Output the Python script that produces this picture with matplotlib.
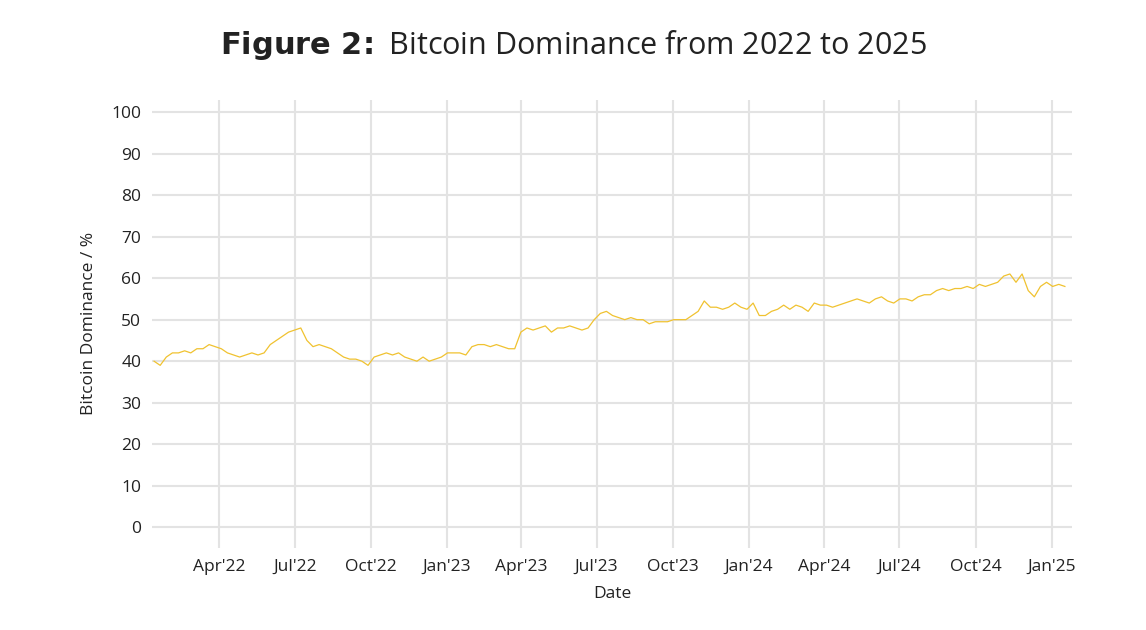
import matplotlib
matplotlib.use("Agg")
import matplotlib.pyplot as plt
import pandas as pd

plt.rcParams["font.family"] = "Open Sans"

dominance = [40, 39, 41, 42, 42, 42.5, 42, 43, 43, 44, 43.5, 43, 42, 41.5, 41, 41.5, 42, 41.5, 42, 44, 45, 46, 47, 47.5,
             48, 45, 43.5, 44, 43.5, 43, 42, 41, 40.5, 40.5, 40, 39, 41, 41.5, 42, 41.5, 42, 41, 40.5, 40, 41, 40,
             40.5, 41, 42, 42, 42, 41.5, 43.5, 44, 44, 43.5, 44, 43.5, 43, 43, 47, 48, 47.5, 48, 48.5, 47, 48, 48,
             48.5, 48, 47.5, 48, 50, 51.5, 52, 51, 50.5, 50, 50.5, 50, 50, 49, 49.5, 49.5, 49.5, 50, 50, 50, 51,
             52, 54.5, 53, 53, 52.5, 53, 54, 53, 52.5, 54, 51, 51, 52, 52.5, 53.5, 52.5, 53.5, 53, 52, 54, 53.5,
             53.5, 53, 53.5, 54, 54.5, 55, 54.5, 54, 55, 55.5, 54.5, 54, 55, 55, 54.5, 55.5, 56, 56, 57, 57.5, 57,
             57.5, 57.5, 58, 57.5, 58.5, 58, 58.5, 59, 60.5, 61, 59, 61, 57, 55.5, 58, 59, 58, 58.5, 58]
dates = pd.date_range("2022-01-12", "2025-01-17", periods=len(dominance))

tick_dates = pd.date_range("2022-04-01", "2025-01-01", freq="QS")
tick_labels = ["Apr'22", "Jul'22", "Oct'22", "Jan'23", "Apr'23", "Jul'23", "Oct'23",
               "Jan'24", "Apr'24", "Jul'24", "Oct'24", "Jan'25"]

fig = plt.figure(figsize=(11.46, 6.30), dpi=100)
ax = fig.add_axes([0.133, 0.13, 0.802, 0.712])
ax.plot(dates, dominance, color="#F0C230", lw=0.9)
ax.set_xlim(pd.Timestamp("2022-01-10"), pd.Timestamp("2025-01-25"))
ax.set_ylim(-5, 103)
ax.set_yticks(range(0, 101, 10))
ax.set_xticks(tick_dates)
ax.set_xticklabels(tick_labels)
ax.grid(True, color="#e3e3e3", lw=1.5)
ax.set_axisbelow(True)
for s in ax.spines.values():
    s.set_visible(False)
ax.tick_params(length=0, labelsize=12.5, colors="#222222", pad=8)
ax.set_xlabel("Date", fontsize=12.5, color="#222222", labelpad=8)
ax.set_ylabel("Bitcoin Dominance / %", fontsize=12.5, color="#222222", labelpad=10)
fig.text(0.5, 0.928, r"$\bf{Figure\ 2\!:}$ Bitcoin Dominance from 2022 to 2025", ha="center", va="center",
         fontsize=22, color="#222222")
fig.savefig("out.png")
